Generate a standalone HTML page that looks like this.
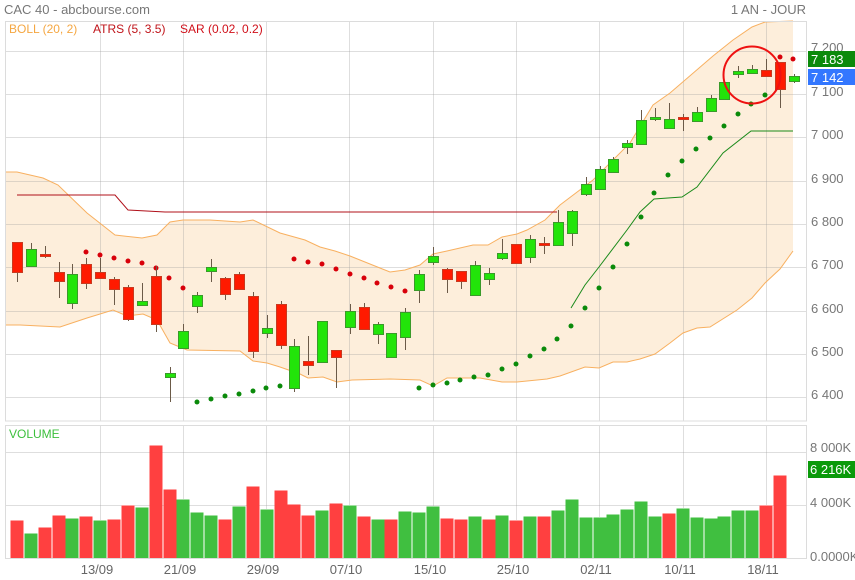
<!DOCTYPE html>
<html><head><meta charset="utf-8"><style>
html,body{margin:0;padding:0;background:#fff;width:855px;height:580px;overflow:hidden}
svg{display:block;font-family:"Liberation Sans",Arial,sans-serif}
</style></head><body>
<svg id="s" width="855" height="580" viewBox="0 0 855 580" xmlns="http://www.w3.org/2000/svg">
<polygon id="band" fill="#fdeedb" stroke="none"/>
<g id="grid" stroke="rgba(160,160,160,0.35)" stroke-width="1" fill="none"></g>
<polyline id="up" fill="none" stroke="#f8b060" stroke-width="1"/>
<polyline id="lo" fill="none" stroke="#f8b060" stroke-width="1"/>
<line x1="5.5" y1="172" x2="5.5" y2="325" stroke="#f8b060"/>
<polyline points="17,195 115,195 128,210 165,212 557,212" fill="none" stroke="#b0101a" stroke-width="1"/>
<polyline points="571,308 585,285 599,267 627,230 640,212 654,199 682,197 697,187 723,153 751,131 793,131" fill="none" stroke="#1a8a1a" stroke-width="1"/>
<g id="dots"></g>
<g id="candles"></g>
<g id="vol"></g>
<circle cx="752" cy="75" r="28.5" fill="none" stroke="#ee1111" stroke-width="2"/>
<rect x="5.5" y="21.5" width="801" height="399.5" fill="none" stroke="#dcdcdc"/>
<rect x="5.5" y="425.5" width="801" height="133" fill="none" stroke="#dcdcdc"/>
<g font-size="13" fill="#777">
<text x="4" y="14">CAC 40 - abcbourse.com</text>
<text x="806" y="14" text-anchor="end">1 AN - JOUR</text>
</g>
<g font-size="12">
<text x="9" y="33" fill="#f5a742">BOLL (20, 2)</text>
<text x="93" y="33" fill="#c0141a">ATRS (5, 3.5)</text>
<text x="180" y="33" fill="#d0101a">SAR (0.02, 0.2)</text>
<text x="9" y="438" fill="#3cbf3c">VOLUME</text>
</g>
<g font-size="13" fill="#777">
<text x="811" y="52">7 200</text>
<text x="811" y="96">7 100</text>
<text x="811" y="139">7 000</text>
<text x="811" y="183">6 900</text>
<text x="811" y="226">6 800</text>
<text x="811" y="269">6 700</text>
<text x="811" y="313">6 600</text>
<text x="811" y="356">6 500</text>
<text x="811" y="399">6 400</text>
<text x="810" y="452">8 000K</text>
<text x="810" y="507">4 000K</text>
<text x="810" y="561">0.0000K</text>
</g>
<rect x="808" y="51" width="47" height="16" fill="#0b8a0b"/>
<text x="811" y="64" font-size="13" fill="#fff">7 183</text>
<rect x="808" y="69" width="47" height="16" fill="#3377ff"/>
<text x="811" y="82" font-size="13" fill="#fff">7 142</text>
<rect x="808" y="461" width="47" height="17" fill="#0a9a0a"/>
<text x="810" y="474" font-size="13" fill="#fff">6 216K</text>
<g font-size="13" fill="#666" text-anchor="middle">
<text x="97" y="574">13/09</text><text x="180" y="574">21/09</text><text x="263" y="574">29/09</text>
<text x="346" y="574">07/10</text><text x="430" y="574">15/10</text><text x="513" y="574">25/10</text>
<text x="596" y="574">02/11</text><text x="680" y="574">10/11</text><text x="763" y="574">18/11</text>
</g>
</svg>
<script>
var NS="http://www.w3.org/2000/svg";
function el(p,t,a){var e=document.createElementNS(NS,t);for(var k in a)e.setAttribute(k,a[k]);document.getElementById(p).appendChild(e);return e;}
var gx=[100,183,266,349,433,516,599,683,766];
gx.forEach(function(x){el("grid","line",{x1:x+.5,y1:21,x2:x+.5,y2:421});el("grid","line",{x1:x+.5,y1:425,x2:x+.5,y2:558});});
[51,94,137,181,224,267,311,354,397].forEach(function(y){el("grid","line",{x1:5,y1:y+.5,x2:807,y2:y+.5});});
[452,505].forEach(function(y){el("grid","line",{x1:5,y1:y+.5,x2:807,y2:y+.5});});
var up=[[5,172],[17,172],[43,178],[58,185],[87,213],[115,235],[142,238],[157,235],[170,222],[183,220],[210,220],[240,222],[253,220],[280,233],[305,240],[320,247],[335,251],[350,256],[390,272],[405,270],[420,265],[433,254],[447,251],[473,245],[488,245],[502,237],[517,234],[527,230],[545,220],[560,205],[593,180],[630,143],[653,105],[670,93],[713,56],[733,40],[752,27],[765,22],[793,21]];
var lo=[[5,325],[20,325],[60,327],[87,318],[113,310],[127,316],[143,314],[157,320],[170,343],[187,350],[240,351],[253,361],[267,363],[280,367],[300,374],[308,378],[323,377],[337,382],[352,380],[390,379],[420,380],[433,386],[447,378],[480,378],[502,382],[517,382],[547,379],[560,376],[585,367],[599,368],[613,362],[627,362],[640,359],[655,354],[670,343],[683,333],[697,328],[710,327],[737,310],[752,298],[765,283],[780,269],[793,251]];
function s(a){return a.map(function(p){return p.join(",");}).join(" ");}
document.getElementById("up").setAttribute("points",s(up));
document.getElementById("lo").setAttribute("points",s(lo));
document.getElementById("band").setAttribute("points",s(up.concat(lo.slice().reverse())));
var C=[[242,242,272,282,'r'],[243,249,266,266,'g'],[246,254,256,258,'r'],[262,272,281,298,'r'],[264,274,303,309,'g'],[258,264,283,289,'r'],[258,272,278,278,'r'],[277,279,289,305,'r'],[285,287,319,321,'r'],[283,301,305,305,'g'],[266,276,324,332,'r'],[367,373,377,402,'g'],[324,331,348,348,'g'],[292,295,306,313,'g'],[259,267,271,282,'g'],[277,278,294,300,'r'],[272,274,289,289,'r'],[292,296,351,358,'r'],[315,328,333,338,'g'],[301,304,345,349,'r'],[339,346,388,392,'g'],[336,361,365,375,'r'],[321,321,362,362,'g'],[350,350,357,388,'r'],[304,311,327,334,'g'],[303,307,329,329,'r'],[322,324,334,344,'g'],[333,333,357,358,'g'],[308,312,337,350,'g'],[270,274,290,303,'g'],[247,256,262,265,'g'],[268,269,279,293,'r'],[271,271,281,289,'r'],[261,265,295,295,'g'],[268,273,279,285,'g'],[239,253,258,260,'g'],[244,244,263,264,'r'],[235,239,257,263,'g'],[237,243,245,254,'r'],[210,222,245,245,'g'],[210,211,233,246,'g'],[177,184,194,196,'g'],[166,169,189,190,'g'],[157,159,172,172,'g'],[140,143,147,154,'g'],[110,120,144,144,'g'],[108,117,119,121,'g'],[103,119,128,129,'g'],[114,117,119,131,'r'],[107,112,121,121,'g'],[95,98,111,112,'g'],[82,82,99,99,'g'],[66,71,74,78,'g'],[65,69,73,73,'g'],[59,70,76,77,'r'],[62,62,89,108,'r'],[74,76,81,83,'g']];
function X(i){return 17+13.87*i;}
C.forEach(function(c,i){var x=Math.round(X(i));
el("candles","line",{x1:x+.5,y1:c[0],x2:x+.5,y2:c[3],stroke:"#6b5a48","stroke-width":1});
var h=Math.max(c[2]-c[1],2);
el("candles","rect",{x:x-4.5,y:c[1]+.5,width:10,height:h,fill:c[4]=='g'?"#22e40a":"#ff1a00",stroke:c[4]=='g'?"#3a9a2a":"#c83a20","stroke-width":1});
});
var R=[[86,252],[100,255],[114,258],[128,261],[142,263],[156,268],[169,278],[183,288],[294,259],[308,262],[322,264],[336,269],[350,274],[364,278],[377,283],[391,287],[405,291],[780,57],[793,59]];
R.forEach(function(p){el("dots","circle",{cx:p[0],cy:p[1],r:2.5,fill:"#d8000a"});});
var G=[[197,402],[211,399],[225,396],[239,394],[253,391],[266,388],[280,386],[419,388],[433,385],[447,383],[460,380],[474,377],[488,375],[502,369],[516,364],[530,356],[544,349],[557,339],[571,326],[585,308],[599,288],[613,267],[627,244],[641,217],[654,193],[668,175],[682,161],[696,149],[710,138],[724,126],[738,114],[751,104],[765,95]];
G.forEach(function(p){el("dots","circle",{cx:p[0],cy:p[1],r:2.5,fill:"#0a8a0a"});});
var V="520r533g527r515r518g516r520g519r505r507g445r489r499g512g515g519r506g486r509g490r504r515r510g503r505g516r519g519r511g512g506g518r519r516g519r515g520r516g516r510g499g517g517g514g509g501g516g513r508g517g518g516g510g510g505r475r";
var re=/(\d+)([rg])/g,m,i=0;
while((m=re.exec(V))){var x=Math.round(X(i))-6.5;var y=+m[1];
el("vol","rect",{x:x,y:y,width:13,height:558-y,fill:m[2]=='g'?"#40bf40":"#ff4040"});
el("vol","rect",{x:x,y:y,width:13,height:1,fill:m[2]=='g'?"#9fdf9f":"#ff9f9f"});i++;}
</script>
</body></html>
